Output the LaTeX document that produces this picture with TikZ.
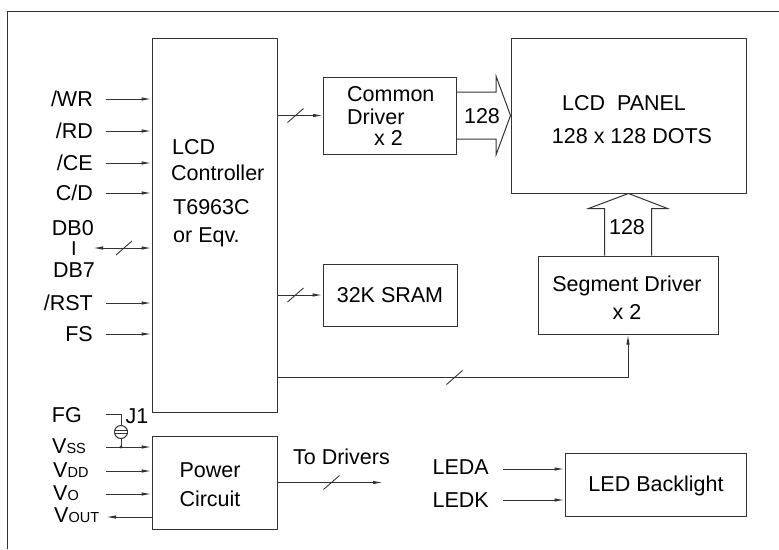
\documentclass[tikz,border=0pt]{standalone}
\usepackage{fontspec}
\setmainfont{Liberation Sans}
\usetikzlibrary{arrows.meta,calc}
\begin{document}
\begin{tikzpicture}[x=1pt,y=-1pt,
  ln/.style={draw=black!80,line width=1pt},
  blk/.style={ln,rectangle,inner sep=0pt},
  sig/.style={ln,-{Latex[length=10pt,width=3.5pt]}},
  bsig/.style={ln,{Latex[length=10pt,width=3.5pt]}-{Latex[length=10pt,width=3.5pt]}},
  lbl/.style={inner sep=0pt,text height=15pt,text depth=0pt,font=\fontsize{21.5}{25}\selectfont},
  buslash/.pic={\draw[draw=black!80,line width=0.9pt] (-8,7)--(8,-7);}
]
\newcommand{\smallsub}[1]{{\fontsize{14.5}{15}\selectfont #1}}
\useasboundingbox (0,0) rectangle (779,549);
% outer frame
\draw[ln] (7,549) -- (7,11) -- (779,11);

% blocks
\node[blk,minimum width=125pt,minimum height=374pt] (ctrl) at (214.5,225) {};
\node[blk,minimum width=133pt,minimum height=77pt] (com) at (390,115.5) {};
\node[blk,minimum width=235pt,minimum height=155pt] (pan) at (628.5,115.5) {};
\node[blk,minimum width=180pt,minimum height=78pt] (seg) at (628,295) {};
\node[blk,minimum width=134pt,minimum height=62pt] (sram) at (390,295) {};
\node[blk,minimum width=125pt,minimum height=93pt] (pw) at (214.5,482.5) {};
\node[blk,minimum width=181pt,minimum height=63pt] (led) at (655.5,484.5) {};

% texts inside blocks
\node[lbl,anchor=west] (t1) at (172,147) {LCD};
\node[lbl,anchor=west] (t2) at (171,173) {Controller};
\node[lbl,anchor=west] (t3) at (173,207) {T6963C};
\node[lbl,anchor=west] (t4) at (173,235) {or Eqv.};
\node[lbl,anchor=west] (c1) at (347,94) {Common};
\node[lbl,anchor=west] (c2) at (347,117) {Driver};
\node[lbl,anchor=west] (c3) at (374,138) {x 2};
\node[lbl] (p1) at (624,103) {LCD\ \ PANEL};
\node[lbl] (p2) at (632,136) {128 x 128 DOTS};
\node[lbl] (s1) at (627,284) {Segment Driver};
\node[lbl] (s2) at (627,312) {x 2};
\node[lbl] (sr) at (390,295) {32K SRAM};
\node[lbl] (w1) at (210,470) {Power};
\node[lbl] (w2) at (210,499) {Circuit};
\node[lbl] (lb) at (656,484) {LED Backlight};

% input signals to controller
\foreach \nm/\txt/\yy in {wr/{/WR}/99, rd/{/RD}/131, ce/{/CE}/163, cd/{C/D}/193, rst/{/RST}/303, fs/{FS}/334}{
  \node[lbl,anchor=east] (\nm) at (93,\yy) {\txt};
  \coordinate (\nm s) at (106,\yy);
  \draw[sig] (\nm s) -- (\nm s -| ctrl.west);
}
% data bus
\node[lbl,anchor=east] (db0) at (94,228) {DB0};
\node[lbl,font=\fontsize{20}{22}\selectfont,text height=13.5pt] (dbi) at (74,248.5) {I};
\node[lbl] (db7) at (74,269.5) {DB7};
\coordinate (dbs) at (93,248);
\draw[bsig] (dbs) -- (dbs -| ctrl.west);
\path (124,248) pic {buslash};

% controller to common driver
\draw[sig] (com.west -| ctrl.east) -- (com.west);
\path ($(com.west -| ctrl.east)+(18,0)$) pic {buslash};
% controller to SRAM
\draw[sig] (sram.west -| ctrl.east) -- (sram.west);
\path ($(sram.west -| ctrl.east)+(18,0)$) pic {buslash};
% controller to segment driver
\coordinate (cseg) at ($(ctrl.south east)+(0,-35)$);
\draw[sig] (cseg) -| (seg.south);
\path ($(cseg)+(177,0)$) pic {buslash};

% hollow arrows
\draw[ln] ($(com.east)+(0,-23.5)$) -- ++(39,0) -- ++(0,-16) -- (pan.west)
  -- ($(com.east)+(39,39.5)$) -- ++(0,-16) -- ($(com.east)+(0,23.5)$);
\node[lbl] (n128a) at (482,116) {128};
\draw[ln] ($(seg.north)+(-23.5,0)$) -- ++(0,-47) -- ++(-16,0) -- (pan.south)
  -- ($(seg.north)+(39.5,-47)$) -- ++(-16,0) -- ($(seg.north)+(23.5,0)$);
\node[lbl] (n128b) at (627,227) {128};

% power section
\node[lbl,anchor=east] (fg) at (82,415) {FG};
\node[lbl,anchor=west] (vss) at (52,445.5) {V\smallsub{SS}};
\node[lbl,anchor=west] (vdd) at (53,469.5) {V\smallsub{DD}};
\node[lbl,anchor=west] (vo) at (53,492.5) {V\smallsub{O}};
\node[lbl,anchor=west] (vout) at (54,515) {V\smallsub{OUT}};
\coordinate (vsss) at (106,447);
\coordinate (vdds) at (106,471);
\coordinate (vos) at (106,494);
\coordinate (vouts) at (106,517);
\draw[sig] (vsss) -- (vsss -| pw.west);
\draw[sig] (vdds) -- (vdds -| pw.west);
\draw[sig] (vos) -- (vos -| pw.west);
\draw[sig] (vouts -| pw.west) -- (vouts);
% J1 jumper
\coordinate (fgs) at (106,414);
\coordinate (jc) at (121,432);
\draw[ln] (fgs) -- (fgs -| jc) -- ($(jc)+(0,-6.5)$);
\draw[ln] (jc) circle (6.5);
\draw[ln,line width=0.8pt] ($(jc)+(-6.5,-1.5)$) -- ($(jc)+(6.5,-1.5)$);
\draw[ln,line width=0.8pt] ($(jc)+(-6.5,1.5)$) -- ($(jc)+(6.5,1.5)$);
\draw[ln] ($(jc)+(0,6.5)$) -- (jc |- vsss);
\fill[black!80] (jc |- vsss) circle (1.6);
\node[lbl] (j1) at (137,416) {J1};

% to drivers
\coordinate (tod) at (383,482.5);
\draw[sig] (pw.east) -- (tod);
\path ($(pw.east)+(54,0)$) pic {buslash};
\node[lbl] (todt) at (341.5,457) {To Drivers};

% LED
\node[lbl,anchor=east] (leda) at (489,467) {LEDA};
\node[lbl,anchor=east] (ledk) at (489,500) {LEDK};
\coordinate (ledas) at (503,469);
\coordinate (ledks) at (503,500);
\draw[sig] (ledas) -- (ledas -| led.west);
\draw[sig] (ledks) -- (ledks -| led.west);
\end{tikzpicture}
\end{document}
